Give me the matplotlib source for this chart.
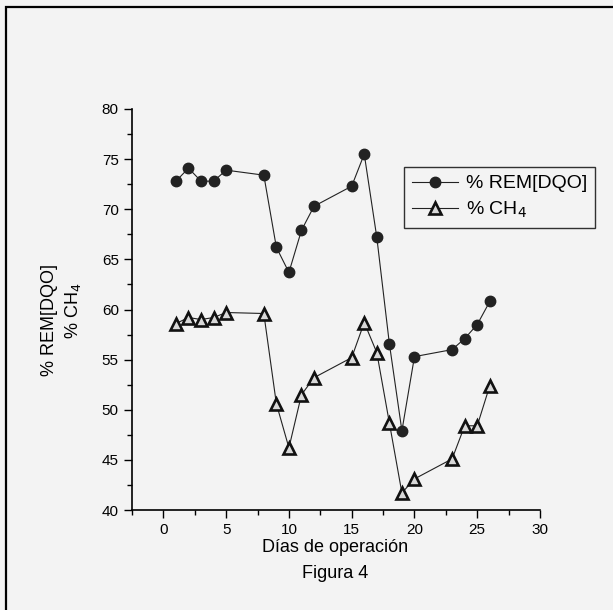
# Figura 4: % REM[DQO] y % CH4 frente a los días de operación

import matplotlib.pyplot as plt
from matplotlib.patches import Rectangle

# Datos
dias_rem = [1, 2, 3, 4, 5, 8, 9, 10, 11, 12, 15, 16, 17, 18, 19, 20, 23, 24, 25, 26]
rem_dqo = [72.8, 74.1, 72.8, 72.8, 73.9, 73.4, 66.2, 63.7, 67.9, 70.3,
           72.3, 75.5, 67.2, 56.6, 47.9, 55.3, 56.0, 57.1, 58.5, 60.8]

dias_ch4 = [1, 2, 3, 4, 5, 8, 9, 10, 11, 12, 15, 16, 17, 18, 19, 20, 23, 24, 25, 26]
ch4 = [58.6, 59.2, 59.0, 59.2, 59.7, 59.6, 50.6, 46.2, 51.5, 53.2,
       55.2, 58.7, 55.7, 48.7, 41.7, 43.1, 45.1, 48.4, 48.4, 52.4]

xticks = [0, 5, 10, 15, 20, 25, 30]
yticks = [40, 45, 50, 55, 60, 65, 70, 75, 80]

bg = '#f3f3f3'
plt.rcParams['font.family'] = ['Liberation Sans', 'DejaVu Sans']

fig = plt.figure(figsize=(6.13, 6.10), dpi=100, facecolor=bg)
ax = fig.add_axes([132 / 613, 100 / 610, 408 / 613, 401 / 610], facecolor=bg)

ax.plot(dias_rem, rem_dqo, color='#222222', lw=0.8, marker='o', ms=7.5,
        mfc='#222222', mec='#222222', label='% REM[DQO]')
ax.plot(dias_ch4, ch4, color='#222222', lw=0.8, marker='^', ms=8.5,
        mfc='#d8d8d8', mec='#111111', mew=1.9, label='% CH$_4$')

ax.set_xlim(-2.5, 30)
ax.set_ylim(40, 80)
ax.set_xticks(xticks)
ax.set_yticks(yticks)
ax.set_xticks([-2.5 + 5 * i for i in range(7)], minor=True)
ax.set_yticks([42.5 + 5 * i for i in range(8)], minor=True)
ax.tick_params(which='major', direction='out', length=6, width=1, labelsize=11)
ax.tick_params(which='minor', direction='out', length=3.5, width=1)

for s in ['top', 'right']:
    ax.spines[s].set_visible(False)
for s in ['left', 'bottom']:
    ax.spines[s].set_linewidth(1.2)

leg = ax.legend(loc='upper left', bbox_to_anchor=(272 / 408, 1 - 58 / 401),
                fontsize=14, frameon=True, fancybox=False, handlelength=2.4,
                borderpad=0.4, labelspacing=0.4, handletextpad=0.4,
                borderaxespad=0)
leg.get_frame().set_edgecolor('black')
leg.get_frame().set_linewidth(1.0)
leg.get_frame().set_facecolor(bg)

# etiquetas de los ejes
fig.text(50 / 613, 1 - 320 / 610, '% REM[DQO]', rotation=90, fontsize=13,
         ha='center', va='center')
fig.text(73 / 613, 1 - 311 / 610, '% CH$_4$', rotation=90, fontsize=13,
         ha='center', va='center')
fig.text(335 / 613, 1 - 547 / 610, 'Días de operación', fontsize=13,
         ha='center', va='center')
fig.text(335 / 613, 1 - 573 / 610, 'Figura 4', fontsize=13,
         ha='center', va='center')

# marco alrededor de la figura
fig.patches.append(Rectangle((6 / 613, -0.1), 1.2, 1.1 - 7 / 610,
                             transform=fig.transFigure, fill=False,
                             edgecolor='black', linewidth=1.6))

plt.savefig('out.png', dpi=100, facecolor=bg)
